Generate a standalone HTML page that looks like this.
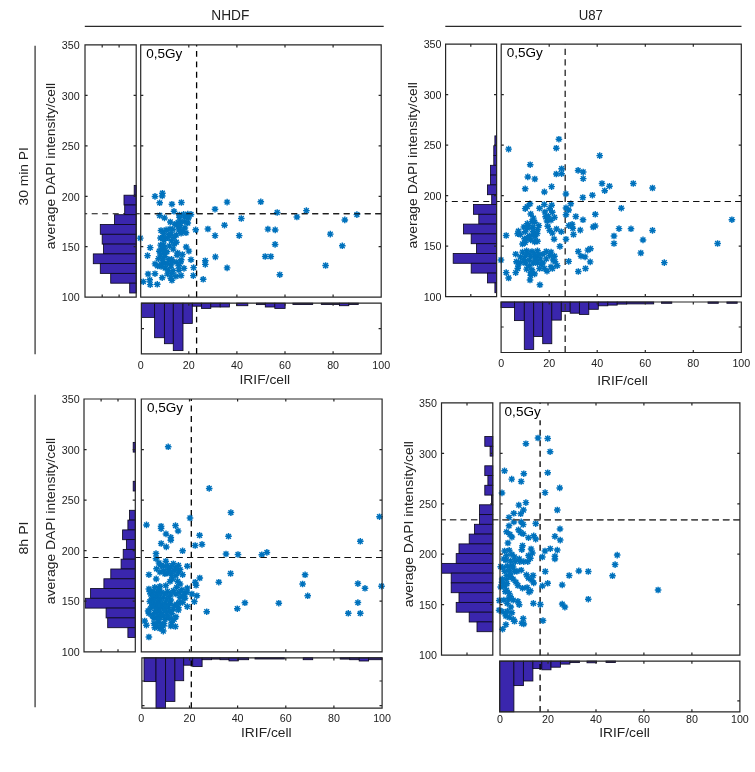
<!DOCTYPE html>
<html><head><meta charset="utf-8"><title>Figure</title>
<style>html,body{margin:0;padding:0;background:#fff;overflow:hidden}svg{display:block;will-change:transform}text{font-family:"Liberation Sans",Arial,sans-serif}</style>
</head><body>
<svg width="755" height="772" viewBox="0 0 755 772">
<rect width="755" height="772" fill="#fff"/>
<defs><g id="m"><path d="M-3.3,0H3.3M0,-3.3V3.3M-2.4,-2.4L2.4,2.4M-2.4,2.4L2.4,-2.4" stroke="#0072bd" stroke-width="1.45" fill="none"/><circle r="1.8" fill="#0072bd"/></g></defs>
<g stroke="#2a2a2a" stroke-width="1.2" fill="none">
<path d="M84.8,26.3H383.7M445.3,26.3H741.5"/>
</g>
<g stroke="#555" stroke-width="1.5" fill="none"><path d="M35.1,45.7V354.3M35.1,394.8V707.3"/></g>
<g fill="#222" font-size="13.5">
<text x="230.3" y="19.8" font-size="14" text-anchor="middle" textLength="38.1" lengthAdjust="spacingAndGlyphs">NHDF</text>
<text x="590.8" y="19.8" font-size="14" text-anchor="middle" textLength="24.2" lengthAdjust="spacingAndGlyphs">U87</text>
<text transform="translate(28,176.3) rotate(-90)" text-anchor="middle" textLength="58.2" lengthAdjust="spacingAndGlyphs">30 min PI</text>
<text transform="translate(28,538) rotate(-90)" text-anchor="middle" textLength="33" lengthAdjust="spacingAndGlyphs">8h PI</text>
</g>
<g>
<path d="M381.2,213.8H85" stroke="#111" stroke-width="1.1" stroke-dasharray="6 4.5" fill="none"/>
<g fill="#3a26ad" stroke="#0d0a20" stroke-width="0.85">
<rect x="134.2" y="185.4" width="2" height="9.8"/>
<rect x="124" y="195.2" width="12.2" height="9.8"/>
<rect x="124.7" y="205" width="11.5" height="9.8"/>
<rect x="114.5" y="214.7" width="21.7" height="9.8"/>
<rect x="100.3" y="224.5" width="35.9" height="9.8"/>
<rect x="102.2" y="234.3" width="34" height="9.8"/>
<rect x="103.5" y="244.1" width="32.7" height="9.8"/>
<rect x="93.3" y="253.9" width="42.9" height="9.8"/>
<rect x="100.3" y="263.6" width="35.9" height="9.8"/>
<rect x="110.7" y="273.4" width="25.5" height="9.8"/>
<rect x="129.7" y="283.2" width="6.5" height="9.8"/>
<rect x="141.4" y="303.2" width="13.2" height="14.2"/>
<rect x="154.6" y="303.2" width="9.8" height="34.5"/>
<rect x="164.4" y="303.2" width="8.9" height="40.5"/>
<rect x="173.3" y="303.2" width="9.7" height="47.4"/>
<rect x="183" y="303.2" width="9.3" height="20.2"/>
<rect x="192.3" y="303.2" width="9.1" height="3"/>
<rect x="201.4" y="303.2" width="9.4" height="5.2"/>
<rect x="210.8" y="303.2" width="9.4" height="3.8"/>
<rect x="220.2" y="303.2" width="9.2" height="3.8"/>
<rect x="236.6" y="303.2" width="11.2" height="2.5"/>
<rect x="256.4" y="303.2" width="8.9" height="1.4"/>
<rect x="265.3" y="303.2" width="9.5" height="3.8"/>
<rect x="274.8" y="303.2" width="10.3" height="5.2"/>
<rect x="292.9" y="303.2" width="19.8" height="1.3"/>
<rect x="321.3" y="303.2" width="18.1" height="1.3"/>
<rect x="339.4" y="303.2" width="9.4" height="2.5"/>
<rect x="348.8" y="303.2" width="9.5" height="1.3"/>
</g>
<path d="M196.6,297.2V44.9" stroke="#000" stroke-width="1.3" stroke-dasharray="5.9 4.55" fill="none"/>
<path d="M196.6,353.9V303.2" stroke="#000" stroke-width="1.3" stroke-dasharray="5.9 4.55" fill="none"/>
<g>
<use href="#m" x="155" y="196.4"/>
<use href="#m" x="162.4" y="193.2"/>
<use href="#m" x="162.2" y="195.9"/>
<use href="#m" x="159.7" y="202.8"/>
<use href="#m" x="171.9" y="204.2"/>
<use href="#m" x="181.4" y="202.5"/>
<use href="#m" x="174" y="211.3"/>
<use href="#m" x="159.7" y="215.5"/>
<use href="#m" x="164.5" y="217.9"/>
<use href="#m" x="179.3" y="215"/>
<use href="#m" x="183.6" y="214.4"/>
<use href="#m" x="187.8" y="214.1"/>
<use href="#m" x="191" y="214.4"/>
<use href="#m" x="195.7" y="229.8"/>
<use href="#m" x="207.9" y="229"/>
<use href="#m" x="215.1" y="235.6"/>
<use href="#m" x="140.3" y="238.1"/>
<use href="#m" x="150.2" y="247.6"/>
<use href="#m" x="147.5" y="255.6"/>
<use href="#m" x="186.2" y="247"/>
<use href="#m" x="188.9" y="251.1"/>
<use href="#m" x="215.4" y="256.9"/>
<use href="#m" x="205.3" y="260.7"/>
<use href="#m" x="205.3" y="264.4"/>
<use href="#m" x="191" y="259.7"/>
<use href="#m" x="193.6" y="267.6"/>
<use href="#m" x="193.3" y="275.6"/>
<use href="#m" x="203.2" y="279.3"/>
<use href="#m" x="155" y="263.9"/>
<use href="#m" x="148.1" y="274"/>
<use href="#m" x="155" y="273.7"/>
<use href="#m" x="143.3" y="281.7"/>
<use href="#m" x="149.7" y="279.8"/>
<use href="#m" x="150.2" y="284.6"/>
<use href="#m" x="157.3" y="284.3"/>
<use href="#m" x="162.2" y="277.7"/>
<use href="#m" x="170.8" y="278.2"/>
<use href="#m" x="171.9" y="280.3"/>
<use href="#m" x="215" y="209.2"/>
<use href="#m" x="227.1" y="202.1"/>
<use href="#m" x="260.8" y="201.8"/>
<use href="#m" x="277.2" y="212.5"/>
<use href="#m" x="296.9" y="217"/>
<use href="#m" x="241.3" y="218.5"/>
<use href="#m" x="224.5" y="225.2"/>
<use href="#m" x="239.2" y="235.6"/>
<use href="#m" x="267.9" y="229.1"/>
<use href="#m" x="275.2" y="229.9"/>
<use href="#m" x="275.1" y="244.4"/>
<use href="#m" x="265.2" y="256.5"/>
<use href="#m" x="270.8" y="256.5"/>
<use href="#m" x="227.1" y="267.9"/>
<use href="#m" x="279.8" y="274.7"/>
<use href="#m" x="306.4" y="210.6"/>
<use href="#m" x="356.9" y="214.6"/>
<use href="#m" x="344.8" y="219.9"/>
<use href="#m" x="330.3" y="234.1"/>
<use href="#m" x="342.3" y="245.8"/>
<use href="#m" x="325.6" y="265.5"/>
<use href="#m" x="179.5" y="217.2"/>
<use href="#m" x="184.7" y="217"/>
<use href="#m" x="188.5" y="217.9"/>
<use href="#m" x="180.8" y="221.9"/>
<use href="#m" x="184.9" y="221.7"/>
<use href="#m" x="170.3" y="222"/>
<use href="#m" x="174.8" y="224.2"/>
<use href="#m" x="178.1" y="222.4"/>
<use href="#m" x="187.8" y="223"/>
<use href="#m" x="178.2" y="226.3"/>
<use href="#m" x="180.2" y="225.8"/>
<use href="#m" x="184.9" y="227.9"/>
<use href="#m" x="161" y="230.5"/>
<use href="#m" x="166.1" y="229.9"/>
<use href="#m" x="170" y="228.9"/>
<use href="#m" x="172.8" y="229.4"/>
<use href="#m" x="178.8" y="230"/>
<use href="#m" x="181.9" y="230.5"/>
<use href="#m" x="163.5" y="233.3"/>
<use href="#m" x="168.7" y="234.5"/>
<use href="#m" x="171.2" y="234.1"/>
<use href="#m" x="176.3" y="235"/>
<use href="#m" x="181.1" y="233.3"/>
<use href="#m" x="186" y="232.8"/>
<use href="#m" x="160.5" y="238"/>
<use href="#m" x="163.9" y="237.2"/>
<use href="#m" x="167.7" y="237.8"/>
<use href="#m" x="174.1" y="237.5"/>
<use href="#m" x="163.9" y="240.4"/>
<use href="#m" x="171.4" y="240.8"/>
<use href="#m" x="176.4" y="242.2"/>
<use href="#m" x="160.6" y="245.1"/>
<use href="#m" x="163.6" y="245.2"/>
<use href="#m" x="169.5" y="246"/>
<use href="#m" x="174.3" y="243.9"/>
<use href="#m" x="161.6" y="248.8"/>
<use href="#m" x="164.7" y="248.1"/>
<use href="#m" x="173.2" y="249.1"/>
<use href="#m" x="159.3" y="251.2"/>
<use href="#m" x="163.7" y="253"/>
<use href="#m" x="166.9" y="251.8"/>
<use href="#m" x="177.6" y="253"/>
<use href="#m" x="160.4" y="255"/>
<use href="#m" x="164.9" y="256.4"/>
<use href="#m" x="177.1" y="255.2"/>
<use href="#m" x="182.4" y="254.5"/>
<use href="#m" x="158.5" y="258.7"/>
<use href="#m" x="162.8" y="259.1"/>
<use href="#m" x="168.8" y="259.5"/>
<use href="#m" x="171.6" y="259.3"/>
<use href="#m" x="181.2" y="259.8"/>
<use href="#m" x="161.3" y="264.2"/>
<use href="#m" x="164.1" y="263"/>
<use href="#m" x="167.4" y="263.7"/>
<use href="#m" x="171.5" y="262"/>
<use href="#m" x="176.1" y="262.2"/>
<use href="#m" x="180.7" y="261.9"/>
<use href="#m" x="157.6" y="265.9"/>
<use href="#m" x="161.1" y="266.5"/>
<use href="#m" x="165.1" y="268"/>
<use href="#m" x="171" y="265.9"/>
<use href="#m" x="178.7" y="265.8"/>
<use href="#m" x="184" y="268.4"/>
<use href="#m" x="168.3" y="270.1"/>
<use href="#m" x="173.2" y="270.6"/>
<use href="#m" x="178.9" y="270.2"/>
<use href="#m" x="167.5" y="273.9"/>
<use href="#m" x="171.7" y="273.5"/>
<use href="#m" x="175.9" y="276.3"/>
<use href="#m" x="181.1" y="275.5"/>
</g>
<path d="M381.2,213.8H140.7" stroke="#111" stroke-width="1.1" stroke-dasharray="6 4.5" fill="none"/>
<text x="146.3" y="57.8" font-size="13.3" fill="#000" textLength="36.1" lengthAdjust="spacingAndGlyphs">0,5Gy</text>
<path d="M140.7,44.9H381.2V297.2H140.7ZM85,44.9H136.2V297.2H85ZM141.4,303.2H381.2V353.9H141.4ZM188.8,297.2v-2.6M188.8,44.9v2.6M188.8,353.9v-2.6M188.8,303.2v2.6M236.9,297.2v-2.6M236.9,44.9v2.6M236.9,353.9v-2.6M236.9,303.2v2.6M285,297.2v-2.6M285,44.9v2.6M285,353.9v-2.6M285,303.2v2.6M333.1,297.2v-2.6M333.1,44.9v2.6M333.1,353.9v-2.6M333.1,303.2v2.6M140.7,246.7h2.6M381.2,246.7h-2.6M85,246.7h2.6M136.2,246.7h-2.6M140.7,196.3h2.6M381.2,196.3h-2.6M85,196.3h2.6M136.2,196.3h-2.6M140.7,145.8h2.6M381.2,145.8h-2.6M85,145.8h2.6M136.2,145.8h-2.6M140.7,95.4h2.6M381.2,95.4h-2.6M85,95.4h2.6M136.2,95.4h-2.6M102.2,44.9v2.6M102.2,297.2v-2.6M119.1,44.9v2.6M119.1,297.2v-2.6M141.4,328.7h2.6M381.2,328.7h-2.6" stroke="#262626" stroke-width="1.2" fill="none"/>
<g fill="#222" font-size="10.7">
<text x="79.6" y="301.4" text-anchor="end">100</text>
<text x="79.6" y="250.9" text-anchor="end">150</text>
<text x="79.6" y="200.5" text-anchor="end">200</text>
<text x="79.6" y="150" text-anchor="end">250</text>
<text x="79.6" y="99.6" text-anchor="end">300</text>
<text x="79.6" y="49.1" text-anchor="end">350</text>
<text x="140.7" y="369.2" text-anchor="middle">0</text>
<text x="188.8" y="369.2" text-anchor="middle">20</text>
<text x="236.9" y="369.2" text-anchor="middle">40</text>
<text x="285" y="369.2" text-anchor="middle">60</text>
<text x="333.1" y="369.2" text-anchor="middle">80</text>
<text x="381.2" y="369.2" text-anchor="middle">100</text>
</g>
<g fill="#222" font-size="13.5">
<text x="264.8" y="384" text-anchor="middle" textLength="50.6" lengthAdjust="spacingAndGlyphs">IRIF/cell</text>
<text transform="translate(55.2,166) rotate(-90)" text-anchor="middle" textLength="166.3" lengthAdjust="spacingAndGlyphs">average DAPI intensity/cell</text>
</g>
</g>
<g>
<path d="M741.3,201.5H445.6" stroke="#111" stroke-width="1.1" stroke-dasharray="6 4.5" fill="none"/>
<g fill="#3a26ad" stroke="#0d0a20" stroke-width="0.85">
<rect x="494.9" y="135.9" width="1.7" height="9.8"/>
<rect x="493.8" y="145.7" width="2.8" height="9.8"/>
<rect x="493.8" y="155.5" width="2.8" height="9.8"/>
<rect x="490.5" y="165.3" width="6.1" height="9.8"/>
<rect x="490.5" y="175.1" width="6.1" height="9.8"/>
<rect x="487.5" y="184.9" width="9.1" height="9.8"/>
<rect x="491.7" y="194.7" width="4.9" height="9.8"/>
<rect x="473.5" y="204.5" width="23.1" height="9.8"/>
<rect x="478.8" y="214.3" width="17.8" height="9.8"/>
<rect x="463.5" y="224.1" width="33.1" height="9.8"/>
<rect x="471.2" y="233.9" width="25.4" height="9.8"/>
<rect x="476.5" y="243.7" width="20.1" height="9.8"/>
<rect x="453.2" y="253.5" width="43.4" height="9.8"/>
<rect x="471.2" y="263.3" width="25.4" height="9.8"/>
<rect x="487.5" y="273.1" width="9.1" height="9.8"/>
<rect x="494.9" y="282.9" width="1.7" height="9.8"/>
<rect x="501" y="302" width="13.5" height="5.6"/>
<rect x="514.5" y="302" width="9.8" height="18.6"/>
<rect x="524.3" y="302" width="9.4" height="47.4"/>
<rect x="533.7" y="302" width="9" height="34.5"/>
<rect x="542.7" y="302" width="9.1" height="41.7"/>
<rect x="551.8" y="302" width="9.5" height="18.1"/>
<rect x="561.3" y="302" width="8.9" height="9.5"/>
<rect x="570.2" y="302" width="9.2" height="11.2"/>
<rect x="579.4" y="302" width="9.4" height="12.4"/>
<rect x="588.8" y="302" width="9.5" height="7.3"/>
<rect x="598.3" y="302" width="9.5" height="3.8"/>
<rect x="607.8" y="302" width="9.4" height="3.1"/>
<rect x="617.2" y="302" width="9.5" height="2.1"/>
<rect x="626.7" y="302" width="27" height="1.9"/>
<rect x="661.5" y="302" width="10.3" height="1.3"/>
<rect x="708" y="302" width="10.3" height="1.3"/>
<rect x="726.9" y="302" width="10.3" height="1.3"/>
</g>
<path d="M565.2,296.6V44.2" stroke="#3a3a3a" stroke-width="1.45" stroke-dasharray="6.4 4.1" fill="none"/>
<path d="M565.2,352.5V302" stroke="#3a3a3a" stroke-width="1.45" stroke-dasharray="6.4 4.1" fill="none"/>
<g>
<use href="#m" x="508.6" y="149.1"/>
<use href="#m" x="558.9" y="139.2"/>
<use href="#m" x="556.3" y="148.2"/>
<use href="#m" x="530.2" y="164.7"/>
<use href="#m" x="561.6" y="168.7"/>
<use href="#m" x="556.3" y="174"/>
<use href="#m" x="561.6" y="173.7"/>
<use href="#m" x="578.1" y="170.4"/>
<use href="#m" x="583.2" y="172"/>
<use href="#m" x="583.2" y="178.6"/>
<use href="#m" x="527.8" y="176.9"/>
<use href="#m" x="534.8" y="179"/>
<use href="#m" x="525.2" y="188.8"/>
<use href="#m" x="551.6" y="186.6"/>
<use href="#m" x="544.4" y="191.9"/>
<use href="#m" x="565.9" y="193.9"/>
<use href="#m" x="582.8" y="197.5"/>
<use href="#m" x="592.4" y="195.2"/>
<use href="#m" x="506.2" y="235.5"/>
<use href="#m" x="501" y="260"/>
<use href="#m" x="506.2" y="272.6"/>
<use href="#m" x="508.6" y="278"/>
<use href="#m" x="515.7" y="272.6"/>
<use href="#m" x="517.7" y="268.5"/>
<use href="#m" x="539.9" y="284.8"/>
<use href="#m" x="530" y="280"/>
<use href="#m" x="530.7" y="275.3"/>
<use href="#m" x="559.9" y="246.4"/>
<use href="#m" x="554.1" y="239.2"/>
<use href="#m" x="566" y="239.2"/>
<use href="#m" x="568.7" y="261.4"/>
<use href="#m" x="578.3" y="271.5"/>
<use href="#m" x="585.5" y="268.5"/>
<use href="#m" x="590.2" y="261.9"/>
<use href="#m" x="578.3" y="251.5"/>
<use href="#m" x="581" y="256.2"/>
<use href="#m" x="585.1" y="256.9"/>
<use href="#m" x="587.8" y="250.1"/>
<use href="#m" x="590.5" y="248.7"/>
<use href="#m" x="580.3" y="230.1"/>
<use href="#m" x="573.5" y="234.5"/>
<use href="#m" x="572.8" y="228.3"/>
<use href="#m" x="568.7" y="225.6"/>
<use href="#m" x="572.1" y="224.3"/>
<use href="#m" x="583" y="219.8"/>
<use href="#m" x="575.8" y="216.5"/>
<use href="#m" x="593.2" y="227"/>
<use href="#m" x="595.3" y="214.3"/>
<use href="#m" x="566" y="214.7"/>
<use href="#m" x="568.7" y="210"/>
<use href="#m" x="566" y="207.9"/>
<use href="#m" x="570.8" y="203.8"/>
<use href="#m" x="554.5" y="217.4"/>
<use href="#m" x="556.5" y="229"/>
<use href="#m" x="561.3" y="231.7"/>
<use href="#m" x="530" y="203.8"/>
<use href="#m" x="527.3" y="206.6"/>
<use href="#m" x="525.2" y="208.6"/>
<use href="#m" x="544.3" y="204.5"/>
<use href="#m" x="539.5" y="208.3"/>
<use href="#m" x="551.7" y="205.2"/>
<use href="#m" x="549.7" y="208.6"/>
<use href="#m" x="544.9" y="212"/>
<use href="#m" x="545.6" y="216.8"/>
<use href="#m" x="547" y="220.9"/>
<use href="#m" x="547.7" y="226.3"/>
<use href="#m" x="549.7" y="230.4"/>
<use href="#m" x="552.4" y="233.1"/>
<use href="#m" x="530.7" y="214"/>
<use href="#m" x="533.4" y="218.1"/>
<use href="#m" x="532" y="221.5"/>
<use href="#m" x="527.3" y="223.6"/>
<use href="#m" x="523.9" y="227"/>
<use href="#m" x="538.8" y="225.6"/>
<use href="#m" x="537.5" y="229.7"/>
<use href="#m" x="528.6" y="225.6"/>
<use href="#m" x="534.7" y="222.2"/>
<use href="#m" x="518.4" y="231.1"/>
<use href="#m" x="520.4" y="234.5"/>
<use href="#m" x="525.2" y="231.7"/>
<use href="#m" x="529.3" y="235.8"/>
<use href="#m" x="533.4" y="234.5"/>
<use href="#m" x="530.7" y="239.9"/>
<use href="#m" x="525.2" y="242.6"/>
<use href="#m" x="522.5" y="244"/>
<use href="#m" x="534.7" y="241.9"/>
<use href="#m" x="537.5" y="241.3"/>
<use href="#m" x="527.3" y="238.5"/>
<use href="#m" x="517.7" y="233.8"/>
<use href="#m" x="515.7" y="254.2"/>
<use href="#m" x="516.4" y="261.7"/>
<use href="#m" x="520.4" y="262.3"/>
<use href="#m" x="522.5" y="252.1"/>
<use href="#m" x="526.6" y="250.8"/>
<use href="#m" x="532" y="251.5"/>
<use href="#m" x="537.5" y="250.8"/>
<use href="#m" x="525.2" y="256.2"/>
<use href="#m" x="530.7" y="256.2"/>
<use href="#m" x="536.1" y="257.6"/>
<use href="#m" x="540.2" y="258.9"/>
<use href="#m" x="525.2" y="263"/>
<use href="#m" x="529.3" y="265.7"/>
<use href="#m" x="533.4" y="263"/>
<use href="#m" x="537.5" y="263"/>
<use href="#m" x="541.5" y="264.4"/>
<use href="#m" x="526.6" y="269.1"/>
<use href="#m" x="532" y="269.8"/>
<use href="#m" x="534.7" y="273.9"/>
<use href="#m" x="546.3" y="251.5"/>
<use href="#m" x="551.1" y="252.1"/>
<use href="#m" x="554.5" y="256.2"/>
<use href="#m" x="555.1" y="261.7"/>
<use href="#m" x="557.2" y="265.7"/>
<use href="#m" x="552.4" y="268.5"/>
<use href="#m" x="547" y="271.2"/>
<use href="#m" x="544.3" y="268.5"/>
<use href="#m" x="542.9" y="263"/>
<use href="#m" x="546.3" y="258.9"/>
<use href="#m" x="520.4" y="256.9"/>
<use href="#m" x="529.3" y="260.3"/>
<use href="#m" x="523.9" y="259.6"/>
<use href="#m" x="538.8" y="254.9"/>
<use href="#m" x="542.9" y="254.2"/>
<use href="#m" x="549.7" y="255.5"/>
<use href="#m" x="530.7" y="272.6"/>
<use href="#m" x="539.5" y="268.5"/>
<use href="#m" x="527.9" y="253.5"/>
<use href="#m" x="534.7" y="254.2"/>
<use href="#m" x="518.4" y="265.1"/>
<use href="#m" x="533" y="231.4"/>
<use href="#m" x="535.1" y="236.7"/>
<use href="#m" x="524.5" y="238.8"/>
<use href="#m" x="537.2" y="233.5"/>
<use href="#m" x="527.7" y="228.2"/>
<use href="#m" x="533" y="227.1"/>
<use href="#m" x="551" y="266.8"/>
<use href="#m" x="553.1" y="260"/>
<use href="#m" x="535.1" y="260"/>
<use href="#m" x="552.3" y="212.3"/>
<use href="#m" x="548.3" y="216.2"/>
<use href="#m" x="551" y="220.2"/>
<use href="#m" x="599.7" y="155.6"/>
<use href="#m" x="602" y="183.5"/>
<use href="#m" x="609.5" y="186.2"/>
<use href="#m" x="604.7" y="190.7"/>
<use href="#m" x="633.3" y="183.5"/>
<use href="#m" x="652.5" y="188"/>
<use href="#m" x="621.3" y="208.2"/>
<use href="#m" x="619" y="228.6"/>
<use href="#m" x="631" y="228.8"/>
<use href="#m" x="652.5" y="230.4"/>
<use href="#m" x="614" y="236"/>
<use href="#m" x="614" y="243.5"/>
<use href="#m" x="643" y="239.9"/>
<use href="#m" x="640.8" y="253"/>
<use href="#m" x="664.3" y="262.6"/>
<use href="#m" x="717.6" y="243.5"/>
<use href="#m" x="731.9" y="219.7"/>
<use href="#m" x="595.2" y="225.9"/>
</g>
<path d="M741.3,201.5H501.2" stroke="#111" stroke-width="1.1" stroke-dasharray="6 4.5" fill="none"/>
<text x="506.8" y="57.1" font-size="13.3" fill="#000" textLength="36.1" lengthAdjust="spacingAndGlyphs">0,5Gy</text>
<path d="M501.2,44.2H741.3V296.6H501.2ZM445.6,44.2H496.6V296.6H445.6ZM501.1,302H741.3V352.5H501.1ZM549.2,296.6v-2.6M549.2,44.2v2.6M549.2,352.5v-2.6M549.2,302v2.6M597.2,296.6v-2.6M597.2,44.2v2.6M597.2,352.5v-2.6M597.2,302v2.6M645.3,296.6v-2.6M645.3,44.2v2.6M645.3,352.5v-2.6M645.3,302v2.6M693.3,296.6v-2.6M693.3,44.2v2.6M693.3,352.5v-2.6M693.3,302v2.6M501.2,246.1h2.6M741.3,246.1h-2.6M445.6,246.1h2.6M496.6,246.1h-2.6M501.2,195.6h2.6M741.3,195.6h-2.6M445.6,195.6h2.6M496.6,195.6h-2.6M501.2,145.2h2.6M741.3,145.2h-2.6M445.6,145.2h2.6M496.6,145.2h-2.6M501.2,94.7h2.6M741.3,94.7h-2.6M445.6,94.7h2.6M496.6,94.7h-2.6M470.8,44.2v2.6M470.8,296.6v-2.6M501.1,327h2.6M741.3,327h-2.6" stroke="#262626" stroke-width="1.2" fill="none"/>
<g fill="#222" font-size="10.7">
<text x="441.5" y="300.8" text-anchor="end">100</text>
<text x="441.5" y="250.3" text-anchor="end">150</text>
<text x="441.5" y="199.8" text-anchor="end">200</text>
<text x="441.5" y="149.4" text-anchor="end">250</text>
<text x="441.5" y="98.9" text-anchor="end">300</text>
<text x="441.5" y="48.4" text-anchor="end">350</text>
<text x="501.2" y="367.4" text-anchor="middle">0</text>
<text x="549.2" y="367.4" text-anchor="middle">20</text>
<text x="597.2" y="367.4" text-anchor="middle">40</text>
<text x="645.3" y="367.4" text-anchor="middle">60</text>
<text x="693.3" y="367.4" text-anchor="middle">80</text>
<text x="741.3" y="367.4" text-anchor="middle">100</text>
</g>
<g fill="#222" font-size="13.5">
<text x="622.5" y="384.6" text-anchor="middle" textLength="50.6" lengthAdjust="spacingAndGlyphs">IRIF/cell</text>
<text transform="translate(417.3,165.3) rotate(-90)" text-anchor="middle" textLength="166.3" lengthAdjust="spacingAndGlyphs">average DAPI intensity/cell</text>
</g>
</g>
<g>
<path d="M382.1,557.5H84" stroke="#111" stroke-width="1.1" stroke-dasharray="6 4.5" fill="none"/>
<g fill="#3a26ad" stroke="#0d0a20" stroke-width="0.85">
<rect x="133.2" y="442.4" width="2.1" height="9.7"/>
<rect x="133.2" y="481.3" width="2.1" height="9.7"/>
<rect x="129.5" y="510.3" width="5.8" height="9.8"/>
<rect x="127.9" y="520.1" width="7.4" height="9.8"/>
<rect x="122.6" y="529.9" width="12.7" height="9.8"/>
<rect x="126.4" y="539.6" width="8.9" height="9.8"/>
<rect x="123.2" y="549.4" width="12.1" height="9.8"/>
<rect x="121.1" y="559.2" width="14.2" height="9.8"/>
<rect x="110.8" y="569" width="24.5" height="9.8"/>
<rect x="103.9" y="578.8" width="31.4" height="9.8"/>
<rect x="90.6" y="588.5" width="44.7" height="9.8"/>
<rect x="85.3" y="598.3" width="50" height="9.8"/>
<rect x="106.1" y="608.1" width="29.2" height="9.8"/>
<rect x="107.7" y="617.9" width="27.6" height="9.8"/>
<rect x="127.9" y="627.7" width="7.4" height="9.8"/>
<rect x="144" y="657.8" width="12" height="23.8"/>
<rect x="156" y="657.8" width="9.6" height="50.4"/>
<rect x="165.6" y="657.8" width="9.3" height="43.6"/>
<rect x="174.9" y="657.8" width="8.8" height="22.9"/>
<rect x="183.7" y="657.8" width="9" height="7.4"/>
<rect x="192.7" y="657.8" width="9.4" height="8.8"/>
<rect x="202.1" y="657.8" width="9.5" height="1.9"/>
<rect x="211.6" y="657.8" width="8.4" height="1.3"/>
<rect x="220" y="657.8" width="9" height="1.9"/>
<rect x="229" y="657.8" width="9.3" height="3.1"/>
<rect x="238.3" y="657.8" width="10.3" height="1.9"/>
<rect x="255" y="657.8" width="29.3" height="1.2"/>
<rect x="303.2" y="657.8" width="9.5" height="1.9"/>
<rect x="340.2" y="657.8" width="9.5" height="1.3"/>
<rect x="349.7" y="657.8" width="9.5" height="1.9"/>
<rect x="359.2" y="657.8" width="9.4" height="3.2"/>
<rect x="368.6" y="657.8" width="13.5" height="1.9"/>
</g>
<path d="M191.3,651.8V399" stroke="#000" stroke-width="1.3" stroke-dasharray="5.9 4.55" fill="none"/>
<path d="M191.3,708.2V657.8" stroke="#000" stroke-width="1.3" stroke-dasharray="5.9 4.55" fill="none"/>
<g>
<use href="#m" x="168.2" y="446.8"/>
<use href="#m" x="209.2" y="488.4"/>
<use href="#m" x="230.9" y="512.6"/>
<use href="#m" x="190" y="518"/>
<use href="#m" x="146.5" y="524.9"/>
<use href="#m" x="161.1" y="526.2"/>
<use href="#m" x="161.1" y="528.6"/>
<use href="#m" x="175.5" y="525.6"/>
<use href="#m" x="178.1" y="530.9"/>
<use href="#m" x="166" y="533.9"/>
<use href="#m" x="170.8" y="537.4"/>
<use href="#m" x="170.8" y="540.2"/>
<use href="#m" x="199.6" y="535.3"/>
<use href="#m" x="228.5" y="536.3"/>
<use href="#m" x="161.2" y="543.5"/>
<use href="#m" x="166.3" y="546.9"/>
<use href="#m" x="182.6" y="550.8"/>
<use href="#m" x="156" y="553.6"/>
<use href="#m" x="156" y="558.7"/>
<use href="#m" x="195.2" y="545.5"/>
<use href="#m" x="202" y="544.4"/>
<use href="#m" x="226" y="554"/>
<use href="#m" x="238" y="554.5"/>
<use href="#m" x="187.3" y="566.2"/>
<use href="#m" x="165.8" y="561.2"/>
<use href="#m" x="173.4" y="563.7"/>
<use href="#m" x="178.4" y="565.4"/>
<use href="#m" x="160.7" y="565.4"/>
<use href="#m" x="156.5" y="568.8"/>
<use href="#m" x="163.3" y="570.5"/>
<use href="#m" x="168.3" y="569.6"/>
<use href="#m" x="174.2" y="570.5"/>
<use href="#m" x="178.4" y="572.1"/>
<use href="#m" x="182.6" y="574.7"/>
<use href="#m" x="164.9" y="573.8"/>
<use href="#m" x="171.7" y="575.5"/>
<use href="#m" x="148.9" y="574.7"/>
<use href="#m" x="156.2" y="578.9"/>
<use href="#m" x="172.5" y="578.9"/>
<use href="#m" x="170" y="581.4"/>
<use href="#m" x="177.6" y="581.4"/>
<use href="#m" x="180.1" y="583.9"/>
<use href="#m" x="199.8" y="578"/>
<use href="#m" x="195.2" y="582.2"/>
<use href="#m" x="196.1" y="585.3"/>
<use href="#m" x="218.8" y="582.2"/>
<use href="#m" x="230.6" y="573.5"/>
<use href="#m" x="187.3" y="588.1"/>
<use href="#m" x="191.9" y="594"/>
<use href="#m" x="196.9" y="595.7"/>
<use href="#m" x="194.4" y="601.6"/>
<use href="#m" x="187.3" y="606.6"/>
<use href="#m" x="206.7" y="611.7"/>
<use href="#m" x="237.3" y="608.7"/>
<use href="#m" x="148.9" y="589"/>
<use href="#m" x="154.8" y="587.3"/>
<use href="#m" x="159.9" y="586.4"/>
<use href="#m" x="165.8" y="585.6"/>
<use href="#m" x="150.6" y="594"/>
<use href="#m" x="156.5" y="592.3"/>
<use href="#m" x="161.6" y="592.3"/>
<use href="#m" x="167.5" y="591.5"/>
<use href="#m" x="173.4" y="590.7"/>
<use href="#m" x="179.2" y="592.3"/>
<use href="#m" x="184.3" y="594"/>
<use href="#m" x="151.5" y="599.1"/>
<use href="#m" x="157.4" y="597.4"/>
<use href="#m" x="163.3" y="597.4"/>
<use href="#m" x="169.1" y="596.5"/>
<use href="#m" x="180.1" y="597.4"/>
<use href="#m" x="185.1" y="598.2"/>
<use href="#m" x="153.2" y="604.1"/>
<use href="#m" x="158.2" y="602.4"/>
<use href="#m" x="164.1" y="603.3"/>
<use href="#m" x="170" y="603.3"/>
<use href="#m" x="179.2" y="602.4"/>
<use href="#m" x="150.6" y="608.3"/>
<use href="#m" x="156.5" y="607.5"/>
<use href="#m" x="162.4" y="607.5"/>
<use href="#m" x="168.3" y="607.5"/>
<use href="#m" x="174.2" y="605.8"/>
<use href="#m" x="178.4" y="607.5"/>
<use href="#m" x="148.9" y="613.4"/>
<use href="#m" x="154.8" y="612.5"/>
<use href="#m" x="160.7" y="612.5"/>
<use href="#m" x="166.6" y="612.5"/>
<use href="#m" x="171.7" y="613.4"/>
<use href="#m" x="175.9" y="616.8"/>
<use href="#m" x="154" y="618.4"/>
<use href="#m" x="159.9" y="617.6"/>
<use href="#m" x="164.9" y="619.3"/>
<use href="#m" x="170" y="618.4"/>
<use href="#m" x="144.7" y="621"/>
<use href="#m" x="146.4" y="625.2"/>
<use href="#m" x="154" y="623.5"/>
<use href="#m" x="159" y="622.6"/>
<use href="#m" x="164.1" y="623.5"/>
<use href="#m" x="154.8" y="627.7"/>
<use href="#m" x="159.9" y="628.5"/>
<use href="#m" x="163.3" y="631.1"/>
<use href="#m" x="170.8" y="626"/>
<use href="#m" x="175.4" y="626.5"/>
<use href="#m" x="148.9" y="637"/>
<use href="#m" x="153.2" y="591.5"/>
<use href="#m" x="159" y="589.8"/>
<use href="#m" x="154.8" y="599.9"/>
<use href="#m" x="160.7" y="599.9"/>
<use href="#m" x="166.6" y="599.9"/>
<use href="#m" x="155.7" y="605"/>
<use href="#m" x="161.6" y="605.5"/>
<use href="#m" x="167.5" y="605.5"/>
<use href="#m" x="159" y="610"/>
<use href="#m" x="164.9" y="610"/>
<use href="#m" x="152.3" y="615.9"/>
<use href="#m" x="157.4" y="615.1"/>
<use href="#m" x="163.3" y="615.6"/>
<use href="#m" x="156.5" y="625.2"/>
<use href="#m" x="161.6" y="626"/>
<use href="#m" x="176.7" y="587.3"/>
<use href="#m" x="181.8" y="589.8"/>
<use href="#m" x="175.9" y="594"/>
<use href="#m" x="182.6" y="596.5"/>
<use href="#m" x="186.8" y="592.3"/>
<use href="#m" x="176.7" y="604.1"/>
<use href="#m" x="182.6" y="602.4"/>
<use href="#m" x="173.4" y="609.2"/>
<use href="#m" x="178.4" y="610"/>
<use href="#m" x="174.2" y="619.3"/>
<use href="#m" x="171.7" y="622.6"/>
<use href="#m" x="149.8" y="591.5"/>
<use href="#m" x="154" y="595.7"/>
<use href="#m" x="159" y="594.9"/>
<use href="#m" x="164.9" y="594"/>
<use href="#m" x="170.8" y="594"/>
<use href="#m" x="149.8" y="601.6"/>
<use href="#m" x="155.7" y="610"/>
<use href="#m" x="161.6" y="615.1"/>
<use href="#m" x="167.5" y="615.9"/>
<use href="#m" x="158.2" y="619.3"/>
<use href="#m" x="163.3" y="626"/>
<use href="#m" x="152.3" y="605.8"/>
<use href="#m" x="170.8" y="599.9"/>
<use href="#m" x="164.9" y="605.8"/>
<use href="#m" x="159" y="605"/>
<use href="#m" x="148.1" y="610.9"/>
<use href="#m" x="170" y="610.9"/>
<use href="#m" x="159" y="562.9"/>
<use href="#m" x="163.3" y="566.2"/>
<use href="#m" x="167.5" y="565.4"/>
<use href="#m" x="170.8" y="567.1"/>
<use href="#m" x="175.9" y="567.9"/>
<use href="#m" x="159.9" y="572.1"/>
<use href="#m" x="167.5" y="573"/>
<use href="#m" x="175.9" y="575.5"/>
<use href="#m" x="180.1" y="569.6"/>
<use href="#m" x="170.8" y="572.1"/>
<use href="#m" x="261.8" y="554.7"/>
<use href="#m" x="266.9" y="552.4"/>
<use href="#m" x="244.9" y="602.8"/>
<use href="#m" x="278.8" y="603.2"/>
<use href="#m" x="305.1" y="574.8"/>
<use href="#m" x="302.6" y="584"/>
<use href="#m" x="307.7" y="595.8"/>
<use href="#m" x="348.3" y="613.3"/>
<use href="#m" x="360.3" y="613.3"/>
<use href="#m" x="357.9" y="602.6"/>
<use href="#m" x="357.9" y="583.6"/>
<use href="#m" x="365" y="588.3"/>
<use href="#m" x="381.5" y="586.2"/>
<use href="#m" x="360.3" y="541.3"/>
<use href="#m" x="379.5" y="516.7"/>
</g>
<path d="M382.1,557.5H141.3" stroke="#111" stroke-width="1.1" stroke-dasharray="6 4.5" fill="none"/>
<text x="146.9" y="411.9" font-size="13.3" fill="#000" textLength="36.1" lengthAdjust="spacingAndGlyphs">0,5Gy</text>
<path d="M141.3,399H382.1V651.8H141.3ZM84,399H135.3V651.8H84ZM141.9,657.8H382.1V708.2H141.9ZM189.5,651.8v-2.6M189.5,399v2.6M189.5,708.2v-2.6M189.5,657.8v2.6M237.6,651.8v-2.6M237.6,399v2.6M237.6,708.2v-2.6M237.6,657.8v2.6M285.8,651.8v-2.6M285.8,399v2.6M285.8,708.2v-2.6M285.8,657.8v2.6M333.9,651.8v-2.6M333.9,399v2.6M333.9,708.2v-2.6M333.9,657.8v2.6M141.3,601.2h2.6M382.1,601.2h-2.6M84,601.2h2.6M135.3,601.2h-2.6M141.3,550.7h2.6M382.1,550.7h-2.6M84,550.7h2.6M135.3,550.7h-2.6M141.3,500.1h2.6M382.1,500.1h-2.6M84,500.1h2.6M135.3,500.1h-2.6M141.3,449.6h2.6M382.1,449.6h-2.6M84,449.6h2.6M135.3,449.6h-2.6M101.1,399v2.6M101.1,651.8v-2.6M118,399v2.6M118,651.8v-2.6M141.9,681h2.6M382.1,681h-2.6M141.9,705.7h2.6M382.1,705.7h-2.6" stroke="#262626" stroke-width="1.2" fill="none"/>
<g fill="#222" font-size="10.7">
<text x="79.7" y="656" text-anchor="end">100</text>
<text x="79.7" y="605.4" text-anchor="end">150</text>
<text x="79.7" y="554.9" text-anchor="end">200</text>
<text x="79.7" y="504.3" text-anchor="end">250</text>
<text x="79.7" y="453.8" text-anchor="end">300</text>
<text x="79.7" y="403.2" text-anchor="end">350</text>
<text x="141.3" y="721.6" text-anchor="middle">0</text>
<text x="189.5" y="721.6" text-anchor="middle">20</text>
<text x="237.6" y="721.6" text-anchor="middle">40</text>
<text x="285.8" y="721.6" text-anchor="middle">60</text>
<text x="333.9" y="721.6" text-anchor="middle">80</text>
<text x="382.1" y="721.6" text-anchor="middle">100</text>
</g>
<g fill="#222" font-size="13.5">
<text x="266.3" y="736.6" text-anchor="middle" textLength="50.6" lengthAdjust="spacingAndGlyphs">IRIF/cell</text>
<text transform="translate(55.4,521) rotate(-90)" text-anchor="middle" textLength="166.3" lengthAdjust="spacingAndGlyphs">average DAPI intensity/cell</text>
</g>
</g>
<g>
<path d="M739.9,519.8H441.5" stroke="#505050" stroke-width="1.6" stroke-dasharray="6.5 4" fill="none"/>
<g fill="#3a26ad" stroke="#0d0a20" stroke-width="0.85">
<rect x="484.8" y="436.5" width="8" height="9.8"/>
<rect x="490.1" y="446.3" width="2.7" height="9.8"/>
<rect x="484.8" y="465.8" width="8" height="9.8"/>
<rect x="487.9" y="475.5" width="4.9" height="9.8"/>
<rect x="484.8" y="485.3" width="8" height="9.8"/>
<rect x="491.5" y="495.1" width="1.3" height="9.8"/>
<rect x="479.5" y="504.8" width="13.3" height="9.8"/>
<rect x="479.5" y="514.6" width="13.3" height="9.8"/>
<rect x="474.5" y="524.3" width="18.3" height="9.8"/>
<rect x="469.2" y="534.1" width="23.6" height="9.8"/>
<rect x="459" y="543.9" width="33.8" height="9.8"/>
<rect x="456.2" y="553.6" width="36.6" height="9.8"/>
<rect x="441.5" y="563.4" width="51.3" height="9.8"/>
<rect x="451.2" y="573.1" width="41.6" height="9.8"/>
<rect x="451.2" y="582.9" width="41.6" height="9.8"/>
<rect x="459" y="592.7" width="33.8" height="9.8"/>
<rect x="456.2" y="602.4" width="36.6" height="9.8"/>
<rect x="469.2" y="612.2" width="23.6" height="9.8"/>
<rect x="477" y="621.9" width="15.8" height="9.8"/>
<rect x="499.7" y="661.1" width="14.2" height="50.7"/>
<rect x="513.9" y="661.1" width="9.5" height="24.5"/>
<rect x="523.4" y="661.1" width="9.5" height="19.9"/>
<rect x="532.9" y="661.1" width="8.9" height="7.5"/>
<rect x="541.8" y="661.1" width="9.2" height="8.7"/>
<rect x="551" y="661.1" width="9.4" height="6.1"/>
<rect x="560.4" y="661.1" width="9.5" height="3"/>
<rect x="569.9" y="661.1" width="9.5" height="1.5"/>
<rect x="587" y="661.1" width="9.6" height="1.7"/>
<rect x="606" y="661.1" width="9.5" height="1.4"/>
</g>
<path d="M540.1,655.2V402.8" stroke="#000" stroke-width="1.3" stroke-dasharray="5.9 4.55" fill="none"/>
<path d="M540.1,711.8V661.1" stroke="#000" stroke-width="1.3" stroke-dasharray="5.9 4.55" fill="none"/>
<g>
<use href="#m" x="538" y="438"/>
<use href="#m" x="547.7" y="438.5"/>
<use href="#m" x="525.9" y="443.7"/>
<use href="#m" x="550.1" y="451.7"/>
<use href="#m" x="504.5" y="470.8"/>
<use href="#m" x="523.8" y="473.7"/>
<use href="#m" x="547.7" y="472.7"/>
<use href="#m" x="511.7" y="479.1"/>
<use href="#m" x="521.2" y="481.5"/>
<use href="#m" x="559.7" y="487.9"/>
<use href="#m" x="545.1" y="492.6"/>
<use href="#m" x="502" y="492.9"/>
<use href="#m" x="525.9" y="502.6"/>
<use href="#m" x="518.8" y="505.1"/>
<use href="#m" x="523.5" y="510"/>
<use href="#m" x="557.3" y="510"/>
<use href="#m" x="513.8" y="513.3"/>
<use href="#m" x="520.7" y="513.8"/>
<use href="#m" x="509" y="517.5"/>
<use href="#m" x="513.9" y="521.9"/>
<use href="#m" x="521.2" y="521.9"/>
<use href="#m" x="523.2" y="524.5"/>
<use href="#m" x="535.7" y="523.6"/>
<use href="#m" x="509" y="525.8"/>
<use href="#m" x="506.6" y="531.8"/>
<use href="#m" x="509.9" y="534.4"/>
<use href="#m" x="511.9" y="537.1"/>
<use href="#m" x="518.5" y="529.8"/>
<use href="#m" x="520.5" y="532.5"/>
<use href="#m" x="523.2" y="533.8"/>
<use href="#m" x="528.5" y="537.7"/>
<use href="#m" x="533.7" y="535.8"/>
<use href="#m" x="535.7" y="539.1"/>
<use href="#m" x="560" y="528.9"/>
<use href="#m" x="554.9" y="536.4"/>
<use href="#m" x="560.2" y="540.1"/>
<use href="#m" x="507.9" y="543"/>
<use href="#m" x="522.5" y="545.7"/>
<use href="#m" x="521.8" y="549.7"/>
<use href="#m" x="531.1" y="549"/>
<use href="#m" x="532.4" y="553"/>
<use href="#m" x="550.3" y="548.7"/>
<use href="#m" x="557.3" y="550.1"/>
<use href="#m" x="545" y="551"/>
<use href="#m" x="542.4" y="557"/>
<use href="#m" x="554.9" y="556.3"/>
<use href="#m" x="554.9" y="558.9"/>
<use href="#m" x="504.6" y="551"/>
<use href="#m" x="509.2" y="550.3"/>
<use href="#m" x="506.6" y="555.6"/>
<use href="#m" x="511.9" y="554.3"/>
<use href="#m" x="514.5" y="557"/>
<use href="#m" x="528.5" y="555.6"/>
<use href="#m" x="530.4" y="558.3"/>
<use href="#m" x="527.8" y="561.6"/>
<use href="#m" x="505.9" y="560.3"/>
<use href="#m" x="510.6" y="560.9"/>
<use href="#m" x="515.2" y="561.6"/>
<use href="#m" x="519.8" y="561.6"/>
<use href="#m" x="523.8" y="561.6"/>
<use href="#m" x="502.6" y="567.5"/>
<use href="#m" x="507.3" y="566.2"/>
<use href="#m" x="511.9" y="565.6"/>
<use href="#m" x="509.2" y="570.2"/>
<use href="#m" x="514.5" y="571.5"/>
<use href="#m" x="521.2" y="570.2"/>
<use href="#m" x="545.3" y="571.5"/>
<use href="#m" x="578.8" y="570.9"/>
<use href="#m" x="588.3" y="571.5"/>
<use href="#m" x="569.2" y="575.5"/>
<use href="#m" x="526.5" y="574.8"/>
<use href="#m" x="533.1" y="575.5"/>
<use href="#m" x="506.6" y="575.5"/>
<use href="#m" x="510.6" y="576.8"/>
<use href="#m" x="547.7" y="583.3"/>
<use href="#m" x="542.4" y="585.9"/>
<use href="#m" x="562.2" y="584.9"/>
<use href="#m" x="588.3" y="599.2"/>
<use href="#m" x="562.2" y="604.1"/>
<use href="#m" x="564.9" y="607.1"/>
<use href="#m" x="533.4" y="603.4"/>
<use href="#m" x="540.4" y="604.5"/>
<use href="#m" x="543" y="620.6"/>
<use href="#m" x="523.2" y="618.6"/>
<use href="#m" x="521.8" y="623.3"/>
<use href="#m" x="523.8" y="623.9"/>
<use href="#m" x="513.2" y="619.3"/>
<use href="#m" x="514.5" y="621.3"/>
<use href="#m" x="505.9" y="624.6"/>
<use href="#m" x="502.6" y="629.2"/>
<use href="#m" x="502" y="611.4"/>
<use href="#m" x="507.3" y="611.4"/>
<use href="#m" x="511.9" y="612.7"/>
<use href="#m" x="505.9" y="616"/>
<use href="#m" x="509.2" y="617.3"/>
<use href="#m" x="499.3" y="600.5"/>
<use href="#m" x="503.9" y="600.1"/>
<use href="#m" x="508.6" y="598.8"/>
<use href="#m" x="513.2" y="600.1"/>
<use href="#m" x="517.9" y="601.4"/>
<use href="#m" x="507.3" y="603.4"/>
<use href="#m" x="519.2" y="604.7"/>
<use href="#m" x="506.6" y="590.2"/>
<use href="#m" x="509.2" y="593.5"/>
<use href="#m" x="510.6" y="596.8"/>
<use href="#m" x="502" y="582.2"/>
<use href="#m" x="506.6" y="579.6"/>
<use href="#m" x="503.9" y="586.2"/>
<use href="#m" x="515.9" y="582.2"/>
<use href="#m" x="517.9" y="585.5"/>
<use href="#m" x="522.5" y="588.2"/>
<use href="#m" x="527.1" y="587.5"/>
<use href="#m" x="530.4" y="590.8"/>
<use href="#m" x="529.1" y="592.2"/>
<use href="#m" x="528.5" y="578.2"/>
<use href="#m" x="533.7" y="582.9"/>
<use href="#m" x="531.8" y="580.2"/>
<use href="#m" x="513.2" y="567"/>
<use href="#m" x="500.7" y="566.7"/>
<use href="#m" x="504.6" y="571.3"/>
<use href="#m" x="502.2" y="579.1"/>
<use href="#m" x="506.9" y="583.8"/>
<use href="#m" x="500.7" y="586.9"/>
<use href="#m" x="503.8" y="558.9"/>
<use href="#m" x="513.1" y="579.1"/>
<use href="#m" x="517" y="571.3"/>
<use href="#m" x="505.3" y="591.5"/>
<use href="#m" x="499.1" y="610.2"/>
<use href="#m" x="505.3" y="613.3"/>
<use href="#m" x="510.8" y="607.1"/>
<use href="#m" x="519.3" y="558.9"/>
<use href="#m" x="510" y="574.4"/>
<use href="#m" x="617.2" y="555.1"/>
<use href="#m" x="615.1" y="564.6"/>
<use href="#m" x="612.5" y="575.8"/>
<use href="#m" x="658.1" y="590"/>
</g>
<path d="M739.9,519.8H500" stroke="#505050" stroke-width="1.6" stroke-dasharray="6.5 4" fill="none"/>
<rect x="501" y="403.8" width="40" height="16.5" fill="#fff"/>
<text x="504.6" y="415.7" font-size="13.3" fill="#000" textLength="36.1" lengthAdjust="spacingAndGlyphs">0,5Gy</text>
<path d="M500,402.8H739.9V655.2H500ZM441.5,402.8H492.8V655.2H441.5ZM499.7,661.1H739.9V711.8H499.7ZM548,655.2v-2.6M548,402.8v2.6M548,711.8v-2.6M548,661.1v2.6M596,655.2v-2.6M596,402.8v2.6M596,711.8v-2.6M596,661.1v2.6M643.9,655.2v-2.6M643.9,402.8v2.6M643.9,711.8v-2.6M643.9,661.1v2.6M691.9,655.2v-2.6M691.9,402.8v2.6M691.9,711.8v-2.6M691.9,661.1v2.6M500,604.7h2.6M739.9,604.7h-2.6M441.5,604.7h2.6M492.8,604.7h-2.6M500,554.2h2.6M739.9,554.2h-2.6M441.5,554.2h2.6M492.8,554.2h-2.6M500,503.8h2.6M739.9,503.8h-2.6M441.5,503.8h2.6M492.8,503.8h-2.6M500,453.3h2.6M739.9,453.3h-2.6M441.5,453.3h2.6M492.8,453.3h-2.6M467,402.8v2.6M467,655.2v-2.6M739.9,700.8h-2.6" stroke="#262626" stroke-width="1.2" fill="none"/>
<g fill="#222" font-size="10.7">
<text x="436.9" y="659.4" text-anchor="end">100</text>
<text x="436.9" y="608.9" text-anchor="end">150</text>
<text x="436.9" y="558.4" text-anchor="end">200</text>
<text x="436.9" y="508" text-anchor="end">250</text>
<text x="436.9" y="457.5" text-anchor="end">300</text>
<text x="436.9" y="407" text-anchor="end">350</text>
<text x="500" y="722.9" text-anchor="middle">0</text>
<text x="548" y="722.9" text-anchor="middle">20</text>
<text x="596" y="722.9" text-anchor="middle">40</text>
<text x="643.9" y="722.9" text-anchor="middle">60</text>
<text x="691.9" y="722.9" text-anchor="middle">80</text>
<text x="739.9" y="722.9" text-anchor="middle">100</text>
</g>
<g fill="#222" font-size="13.5">
<text x="624.5" y="736.9" text-anchor="middle" textLength="50.6" lengthAdjust="spacingAndGlyphs">IRIF/cell</text>
<text transform="translate(413.4,524.2) rotate(-90)" text-anchor="middle" textLength="166.3" lengthAdjust="spacingAndGlyphs">average DAPI intensity/cell</text>
</g>
</g>
</svg>
</body></html>
